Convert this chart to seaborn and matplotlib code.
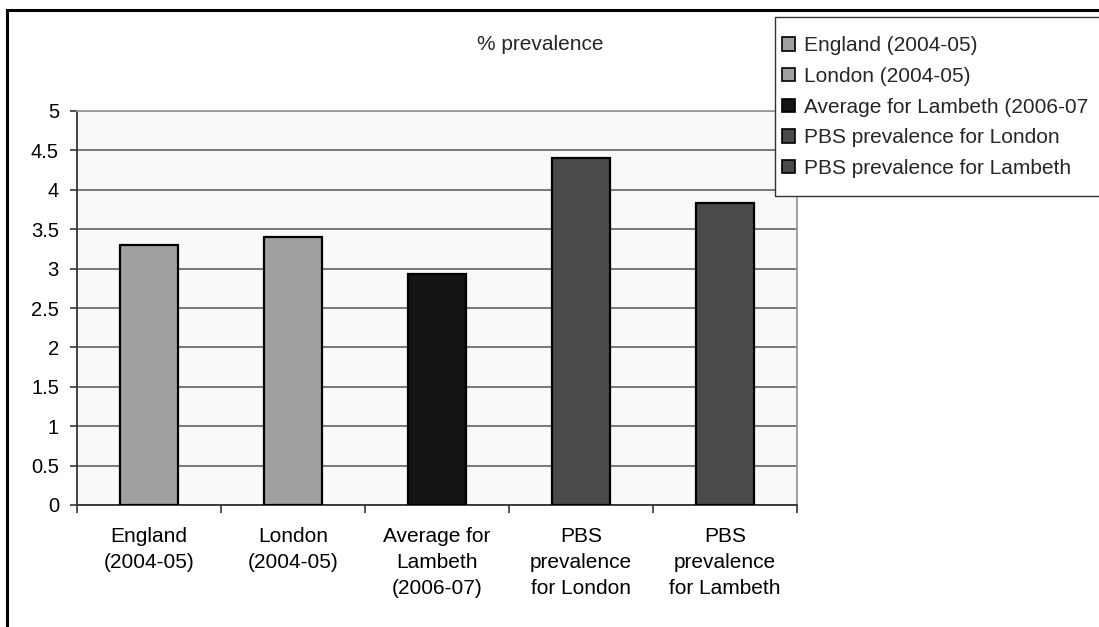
import matplotlib
matplotlib.use("Agg")
import matplotlib.pyplot as plt
from matplotlib.patches import Rectangle, Patch
import seaborn as sns
import numpy as np

# Data
series = ["England (2004-05)", "London (2004-05)", "Average for Lambeth (2006-07",
          "PBS prevalence for London", "PBS prevalence for Lambeth"]
tick_labels = ["England\n(2004-05)", "London\n(2004-05)", "Average for\nLambeth\n(2006-07)",
               "PBS\nprevalence\nfor London", "PBS\nprevalence\nfor Lambeth"]
values = [3.3, 3.4, 2.93, 4.4, 3.83]
colors = ["#a0a0a0", "#a0a0a0", "#141414", "#4a4a4a", "#4a4a4a"]
yticks = [0, 0.5, 1, 1.5, 2, 2.5, 3, 3.5, 4, 4.5, 5]

sns.set_theme(style="white")
plt.rcParams["font.family"] = ["Liberation Sans", "DejaVu Sans"]
FS = 15

W, H = 1099, 627
fig = plt.figure(figsize=(W / 100, H / 100), dpi=100)
ax = fig.add_axes([77 / W, 1 - 505 / H, 720 / W, 394 / H])
ax.set_facecolor("#f9f9f9")

sns.barplot(x=series, y=values, hue=series, palette=colors, dodge=False,
            width=0.4, edgecolor="black", linewidth=1.6, saturation=1,
            legend=False, ax=ax, zorder=3)

ax.set_ylim(0, 5)
ax.set_xlim(-0.5, 4.5)
ax.set_yticks(yticks)
ax.set_yticklabels([f"{v:g}" for v in yticks], fontsize=14.5, color="black")
ax.yaxis.grid(True, color="#555555", linewidth=1.1, zorder=0)
ax.set_axisbelow(True)

ax.set_xticks(range(len(series)))
ax.set_xticklabels(tick_labels, fontsize=FS, color="black", linespacing=1.45, va="top")
ax.set_xticks(np.arange(-0.5, 5.0, 1.0), minor=True)
ax.tick_params(axis="x", which="major", length=0, pad=16)
ax.tick_params(axis="x", which="minor", length=6, width=1.2, color="#333333", direction="out", bottom=True)
ax.tick_params(axis="y", length=5, width=1.2, color="#333333", direction="out", left=True, pad=8)
ax.set_xlabel("")
ax.set_ylabel("")

for side in ("left", "bottom"):
    ax.spines[side].set_color("#333333")
    ax.spines[side].set_linewidth(1.3)
for side in ("top", "right"):
    ax.spines[side].set_color("#999999")
    ax.spines[side].set_linewidth(1.3)

fig.text(540 / W, 1 - 45 / H, "% prevalence", ha="center", va="center", fontsize=FS)

# Legend box: white panel drawn separately so the entries can sit with roomy vertical padding
fig.patches.append(Rectangle((775 / W, 1 - 196 / H), 0.4, (196 - 17) / H, transform=fig.transFigure,
                             facecolor="white", edgecolor="#333333", linewidth=1.0, zorder=5))
handles = [Patch(facecolor=c, edgecolor="black", linewidth=1.2) for c in colors]
leg = fig.legend(handles, series, loc="upper left", bbox_to_anchor=(775 / W, 1 - 29 / H),
                 frameon=False, fontsize=FS, handlelength=0.6, handleheight=0.6,
                 handletextpad=0.45, labelspacing=0.56, borderpad=0.35, borderaxespad=0)
leg.set_zorder(6)

# Outer chart border
fig.patches.append(Rectangle((7 / W, -0.1), 1.2, 1 - 10 / H + 0.1, transform=fig.transFigure,
                             fill=False, edgecolor="black", linewidth=2.2, zorder=10))

fig.savefig("out.png", dpi=100)
